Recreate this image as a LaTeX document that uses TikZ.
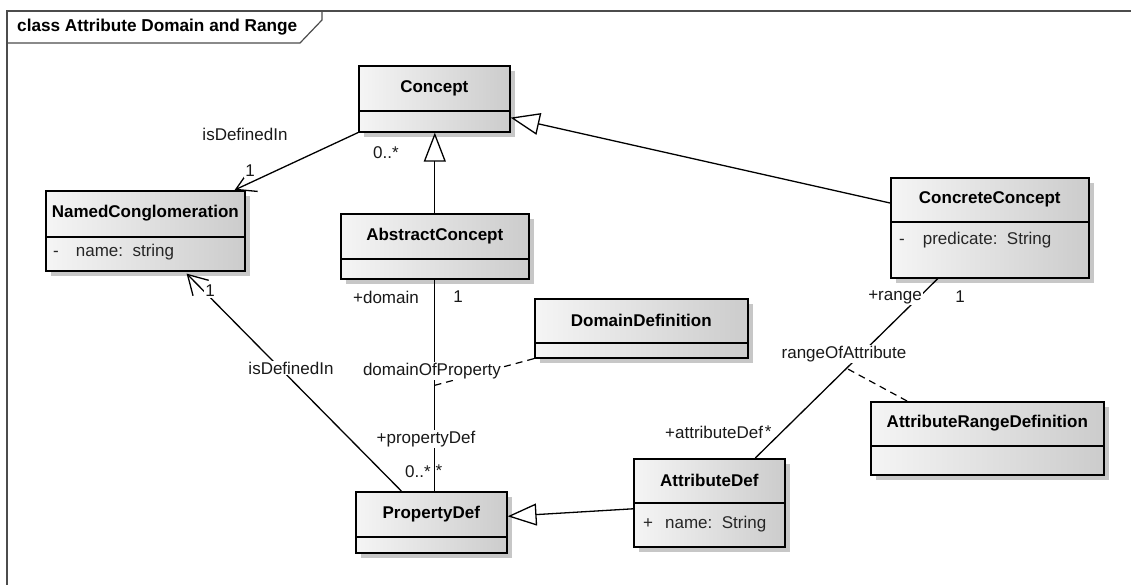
\documentclass[tikz,border=0pt]{standalone}
\usepackage{fontspec}
\setmainfont{Liberation Sans}
\usetikzlibrary{arrows.meta,shadows,calc}

% class box: name, x, y (top left), width, height, name compartment height, class name
\newcommand\umlclass[7]{%
  \node[cls, minimum width=#4, minimum height=#5] (#1) at (#2,#3) {};
  \draw[sepline] ([yshift=-#6]#1.north west) -- ([yshift=-#6]#1.north east);
  \node[clsname] at ([yshift=-#6/2]#1.north) {#7};
}

\begin{document}
\begin{tikzpicture}[x=1pt,y=-1pt,
  font=\fontsize{17}{20}\selectfont,
  cls/.style={draw=black, line width=1.6pt, anchor=north west, inner sep=0pt,
    left color=black!4, right color=black!20,
    drop shadow={shadow xshift=5pt, shadow yshift=-5pt, fill=black!22, opacity=1}},
  sepline/.style={line width=1.4pt, black},
  clsname/.style={font=\fontsize{17}{20}\selectfont\bfseries, inner sep=0pt},
  attr/.style={anchor=west, inner sep=0pt, text=black!85},
  assoc/.style={line width=1.3pt, black},
  gen/.style={line width=1.3pt, black, -{Triangle[open, length=29pt, width=22pt, fill=white]}},
  nav/.style={assoc, -{Straight Barb[length=19pt, width=22pt]}},
  acl/.style={line width=1.2pt, black, dash pattern=on 7pt off 5pt},
  lbl/.style={fill=white, inner sep=1pt, text=black!90},
]
\useasboundingbox (0,0) rectangle (1131,585);

% diagram frame with its name tab
\draw[line width=1.6pt, black!70] (7,585) -- (7,11) -- (1131,11);
\draw[line width=1.2pt, black!70] (7,43) -- (300,43) -- (322,20) -- (322,11);
\node[anchor=west, font=\fontsize{17.2}{20}\selectfont\bfseries, inner sep=0pt] (frametitle) at (17,27) {class Attribute Domain and Range};

% classes
\umlclass{concept}{358}{65}{151}{66}{46}{Concept}
\umlclass{named}{45}{190}{199}{80}{47}{NamedConglomeration}
\node[attr] (namedattr) at (53,252) {-\hspace{17pt}name:\ \ string};
\umlclass{abstract}{340}{213}{188}{65}{46}{AbstractConcept}
\umlclass{concrete}{890}{177}{198}{100}{45}{ConcreteConcept}
\node[attr] (concreteattr) at (899,240) {-\hspace{18pt}predicate:\ \ String};
\umlclass{domdef}{534}{298}{213}{59}{45}{DomainDefinition}
\umlclass{ard}{870}{401}{233}{73}{45}{AttributeRangeDefinition}
\umlclass{propdef}{355}{491}{151}{61}{46}{PropertyDef}
\umlclass{attrdef}{633}{458}{151}{88}{45}{AttributeDef}
\node[attr] (attrdefattr) at (643,524) {+\hspace{12pt}name:\ \ String};

% generalizations
\draw[gen] (abstract.north) -- (abstract.north |- concept.south);
\draw[gen] ([yshift=-26]concrete.north west) -- ([yshift=15]concept.south east);
\draw[gen] ([yshift=-6]attrdef.west) -- ([yshift=6]propdef.east);

% navigable associations to NamedConglomeration
\draw[nav] (concept.south west) -- ([xshift=-11]named.north east);
\draw[nav] ([xshift=-30]propdef.north) -- ([xshift=-59,yshift=-2]named.south east);

% domainOfProperty with its association class
\draw[assoc] (abstract.south) -- (abstract.south |- propdef.north);
\coordinate (dop) at ($(abstract.south)!0.5!(abstract.south |- propdef.north)$);
\draw[acl] (domdef.south west) -- (dop);

% rangeOfAttribute with its association class
\draw[assoc] ([xshift=-52]concrete.south) -- ([xshift=46]attrdef.north);
\coordinate (roa) at ($([xshift=-52]concrete.south)!0.5!([xshift=46]attrdef.north)$);
\draw[acl] ([xshift=37]ard.north west) -- (roa);

% association labels and multiplicities
\node[lbl] (l1) at (245,134) {isDefinedIn};
\node[lbl] (m1) at (250,171) {1};
\node[lbl] (m2) at (386,153) {0..*};
\node[lbl] (m3) at (210,291) {1};
\node[lbl] (l2) at (291,368) {isDefinedIn};
\node[lbl] (r1) at (386,297) {+domain};
\node[lbl] (m4) at (458,297) {1};
\node[lbl] (l3) at (432,371) {domainOfProperty};
\node[lbl] (r2) at (426,439) {+propertyDef};
\node[lbl] (m5) at (418,472) {0..*};
\node[lbl, inner sep=0pt] (m6) at (439,471) {*};
\node[lbl] (r3) at (895,297) {+range};
\node[lbl] (m7) at (960,297) {1};
\node[lbl] (l4) at (844,354) {rangeOfAttribute};
\node[lbl, anchor=west] (r4) at (664,432) {+attributeDef};
\node[lbl, inner sep=0.5pt, anchor=west] (m8) at (r4.east) {*};
\end{tikzpicture}
\end{document}
